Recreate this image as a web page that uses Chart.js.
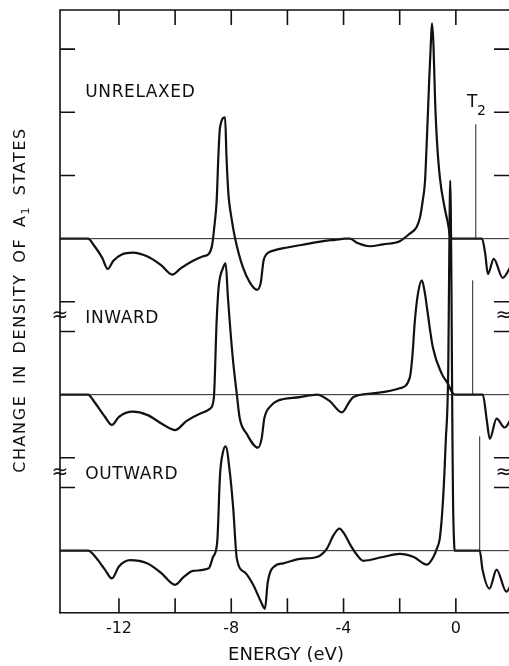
<!DOCTYPE html>
<html><head><meta charset="utf-8">
<script src="https://cdn.jsdelivr.net/npm/chart.js@4/dist/chart.umd.min.js"></script>
<style>
html,body{margin:0;padding:0;background:#fff;overflow:hidden;}
#wrap{position:relative;width:512px;height:666px;}
</style></head><body>
<div id="wrap"><canvas id="c"></canvas></div>
<script>
// ---- data (energy in eV, values in tick units above each curve's own baseline) ----
const xTickLabels = [-12, -8, -4, 0];
const xMarkTicks = [-12, -10, -8, -6, -4, -2, 0, 2];
const curveNames = ['UNRELAXED', 'INWARD', 'OUTWARD'];
const curveOffsets = [4.94, 2.47, 0];

const unrelaxedE = [-14.1,-13.1,-12.9,-12.6,-12.4,-12.2,-11.9,-11.5,-11.0,-10.5,-10.1,-9.8,-9.36,-9.0,-8.8,-8.68,-8.6,-8.52,-8.45,-8.4,-8.22,-8.17,-8.1,-8.0,-7.86,-7.58,-7.33,-7.08,-6.95,-6.85,-6.75,-6.5,-6.0,-5.5,-5.0,-4.6,-4.3,-3.95,-3.77,-3.5,-3.06,-2.6,-2.0,-1.64,-1.4,-1.28,-1.18,-1.1,-1.03,-0.95,-0.88,-0.85,-0.8,-0.74,-0.68,-0.57,-0.4,-0.28,-0.18,0.93,1.05,1.14,1.35,1.67,2.0];
const unrelaxedV = [0,0,-0.1,-0.3,-0.48,-0.35,-0.25,-0.22,-0.28,-0.42,-0.57,-0.47,-0.35,-0.28,-0.24,-0.1,0.2,0.6,1.4,1.76,1.92,1.3,0.7,0.35,0,-0.46,-0.7,-0.81,-0.7,-0.35,-0.25,-0.19,-0.14,-0.1,-0.06,-0.03,-0.02,0,0,-0.07,-0.12,-0.09,-0.04,0.08,0.18,0.33,0.6,0.9,1.6,2.5,3.2,3.41,3.1,2.2,1.6,0.97,0.49,0.24,0,0,-0.25,-0.56,-0.32,-0.62,-0.4];

const inwardE = [-14.1,-13.1,-12.9,-12.5,-12.25,-12.0,-11.5,-11.0,-10.4,-10.0,-9.6,-9.1,-8.75,-8.62,-8.52,-8.45,-8.3,-8.2,-8.12,-7.95,-7.8,-7.7,-7.45,-7.05,-6.92,-6.82,-6.6,-6.37,-5.55,-4.95,-4.5,-4.06,-3.8,-3.66,-2.95,-2.0,-1.64,-1.55,-1.46,-1.35,-1.21,-1.1,-1.03,-0.82,-0.5,-0.28,-0.15,-0.04,0.96,1.1,1.21,1.45,1.74,2.0];
const inwardV = [0,0,-0.1,-0.35,-0.48,-0.35,-0.27,-0.32,-0.48,-0.56,-0.42,-0.3,-0.22,-0.05,1.17,1.7,2.0,2.08,1.55,0.6,0,-0.37,-0.62,-0.84,-0.7,-0.37,-0.18,-0.1,-0.04,0,-0.1,-0.28,-0.12,-0.04,0.02,0.1,0.27,0.6,1.17,1.6,1.81,1.6,1.38,0.75,0.33,0.17,0.05,0,0,-0.4,-0.7,-0.38,-0.52,-0.35];

const outwardE = [-14.1,-13.1,-12.8,-12.5,-12.25,-12.0,-11.6,-11.0,-10.5,-10.0,-9.7,-9.36,-8.8,-8.65,-8.5,-8.4,-8.3,-8.2,-8.04,-7.93,-7.8,-7.5,-7.22,-6.95,-6.8,-6.7,-6.44,-6.15,-5.55,-4.95,-4.6,-4.35,-4.15,-3.95,-3.77,-3.5,-3.3,-2.6,-2.0,-1.5,-1.03,-0.8,-0.68,-0.57,-0.46,-0.36,-0.27,-0.24,-0.2,-0.16,-0.14,-0.12,-0.1,-0.06,-0.04,0.85,0.95,1.2,1.45,1.8,2.0];
const outwardV = [0,0,-0.12,-0.3,-0.44,-0.25,-0.15,-0.2,-0.35,-0.54,-0.42,-0.32,-0.28,-0.1,0.14,1.2,1.55,1.65,1.2,0.67,-0.13,-0.35,-0.54,-0.8,-0.92,-0.5,-0.24,-0.2,-0.13,-0.1,0.03,0.25,0.35,0.25,0.1,-0.08,-0.16,-0.1,-0.05,-0.1,-0.22,-0.1,0.03,0.2,0.78,1.73,2.9,4.4,5.86,4.4,3.0,1.7,0.78,0.1,0,0,-0.3,-0.6,-0.3,-0.65,-0.5];

const t2Energies = [0.71, 0.6, 0.85];
const t2Height = 1.81;
const yMarkTicks = [7.94, 6.94, 5.94, 3.94, 3.47, 1.47, 1.0];
const yBreaks = [3.72, 1.24];

// ---- layout / style constants ----
const X_MIN = -14.1, X_MAX = 2.0, Y_MIN = -0.99, Y_MAX = 8.56;
const INK = '#111';
const FONT = '"DejaVu Sans", sans-serif';

const curves = [[unrelaxedE, unrelaxedV], [inwardE, inwardV], [outwardE, outwardV]];
const datasets = [];
curveOffsets.forEach((off, k) => {
  datasets.push({ data: [{x: X_MIN, y: off}, {x: X_MAX, y: off}], borderColor: '#222', borderWidth: 1, pointRadius: 0, tension: 0 });
  datasets.push({ data: [{x: t2Energies[k], y: off}, {x: t2Energies[k], y: off + t2Height}], borderColor: '#222', borderWidth: 1, pointRadius: 0, tension: 0 });
});
curves.forEach(([E, V], k) => {
  datasets.push({ data: E.map((e, i) => ({x: e, y: V[i] + curveOffsets[k]})), borderColor: INK, borderWidth: 2.2, pointRadius: 0, cubicInterpolationMode: 'monotone' });
});

const decor = {
  id: 'decor',
  afterDatasetsDraw(chart) {
    const {ctx, chartArea: a, scales: {x, y}} = chart;
    ctx.save();
    ctx.strokeStyle = INK; ctx.lineWidth = 1.6;
    ctx.beginPath();
    ctx.moveTo(a.left, a.bottom); ctx.lineTo(a.left, a.top); ctx.lineTo(a.right, a.top); ctx.lineTo(a.right, a.bottom);
    ctx.stroke();
    const L = 15;
    ctx.beginPath();
    xMarkTicks.forEach(v => {
      const px = x.getPixelForValue(v);
      ctx.moveTo(px, a.top); ctx.lineTo(px, a.top + L);
      ctx.moveTo(px, a.bottom); ctx.lineTo(px, a.bottom - L);
    });
    yMarkTicks.forEach(v => {
      const py = y.getPixelForValue(v);
      ctx.moveTo(a.left, py); ctx.lineTo(a.left + L, py);
      ctx.moveTo(a.right, py); ctx.lineTo(a.right - L - 3, py);
    });
    ctx.stroke();
    ctx.fillStyle = INK;
    ctx.font = '20px ' + FONT; ctx.textAlign = 'center'; ctx.textBaseline = 'middle';
    yBreaks.forEach(v => {
      const py = y.getPixelForValue(v);
      ctx.fillText('\u2248', a.left, py);
      ctx.fillText('\u2248', a.right - 8, py);
    });
    ctx.font = '17px ' + FONT; ctx.textAlign = 'left';
    if ('letterSpacing' in ctx) ctx.letterSpacing = '0.6px';
    const labelY = [7.25, 3.68, 1.2];
    curveNames.forEach((n, k) => ctx.fillText(n, x.getPixelForValue(-13.2), y.getPixelForValue(labelY[k])));
    const tx = x.getPixelForValue(0.4), ty = y.getPixelForValue(curveOffsets[0] + 2.15);
    ctx.fillText('T', tx, ty);
    ctx.font = '14px ' + FONT;
    ctx.fillText('2', tx + 10, ty + 9);
    if ('letterSpacing' in ctx) ctx.letterSpacing = '1.6px';
    if ('wordSpacing' in ctx) ctx.wordSpacing = '4px';
    ctx.font = '16px ' + FONT;
    const p1 = 'CHANGE IN DENSITY OF A', p2 = '1', p3 = ' STATES';
    const w1 = ctx.measureText(p1).width;
    ctx.font = '11px ' + FONT;
    const w2 = ctx.measureText(p2).width;
    ctx.font = '16px ' + FONT;
    const w3 = ctx.measureText(p3).width;
    const total = w1 + w2 + w3;
    ctx.translate(21, 300);
    ctx.rotate(-Math.PI / 2);
    let cx = -total / 2;
    ctx.fillText(p1, cx, 0); cx += w1;
    ctx.font = '11px ' + FONT; ctx.fillText(p2, cx, 5); cx += w2;
    ctx.font = '16px ' + FONT; ctx.fillText(p3, cx, 0);
    ctx.restore();
  }
};

new Chart(document.getElementById('c'), {
  type: 'line',
  data: { datasets },
  options: {
    responsive: true, maintainAspectRatio: false, animation: false, devicePixelRatio: 1,
    layout: { padding: { left: 60, top: 10, right: 0, bottom: 0 } },
    plugins: { legend: { display: false }, tooltip: { enabled: false } },
    scales: {
      x: {
        type: 'linear', min: X_MIN, max: X_MAX,
        afterBuildTicks: s => { s.ticks = xTickLabels.map(v => ({value: v})); },
        ticks: { color: INK, font: { family: FONT, size: 16 }, padding: 6, maxRotation: 0, autoSkip: false },
        grid: { display: false, drawTicks: false },
        border: { display: true, color: INK, width: 1.6 },
        title: { display: true, text: 'ENERGY (eV)', color: INK, font: { family: FONT, size: 18 }, padding: { top: 0, bottom: 0 } }
      },
      y: { type: 'linear', min: Y_MIN, max: Y_MAX, display: false }
    }
  },
  plugins: [decor]
});
</script>
</body></html>
